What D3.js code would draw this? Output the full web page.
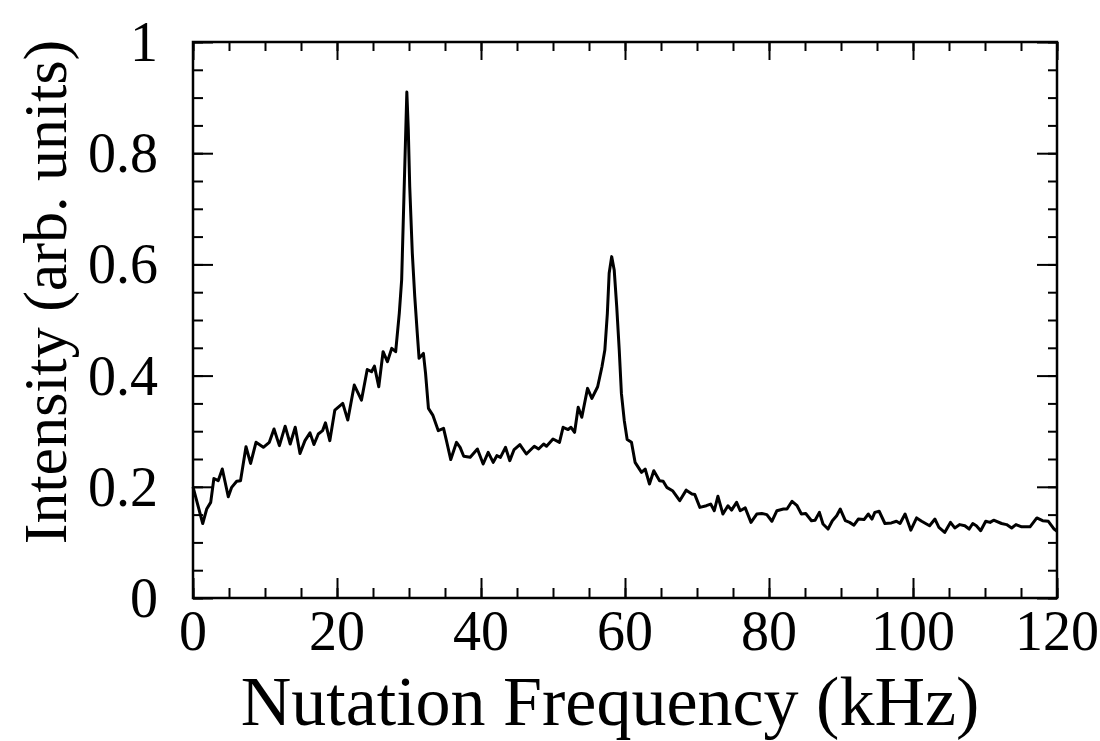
<!DOCTYPE html>
<html>
<head>
<meta charset="utf-8">
<script src="https://cdn.jsdelivr.net/npm/d3@7"></script>
<style>
  html, body { margin: 0; padding: 0; background: #fff; }
  svg { display: block; }
  text { font-family: "Liberation Serif", "DejaVu Serif", serif; fill: #000; }
</style>
</head>
<body>
<svg id="chart" width="1100" height="741"></svg>
<script>
// Nutation frequency (kHz)
const freq = [
  0, 1.35, 1.9, 2.46, 2.9, 3.5, 4.07, 4.9, 5.37, 6.07, 6.6, 7.36, 8.0, 8.75, 9.77,
  10.6, 11.25, 12.0, 12.8, 13.5, 14.2, 14.86, 15.55, 16.25, 16.8, 17.4, 18.0, 18.4,
  19.0, 19.7, 20.8, 21.5, 22.4, 23.4, 24.2, 24.8, 25.2, 25.8, 26.4, 27.0, 27.6, 28.15,
  28.65, 28.98, 29.3, 29.7, 29.9, 30.1, 30.46, 30.8, 31.15, 31.4, 32.0, 32.3, 32.7,
  33.3, 34.07, 34.8, 35.2, 35.8, 36.6, 37.1, 37.6, 38.5, 39.5, 40.3, 41.0, 41.7, 42.2,
  42.7, 43.4, 44.0, 44.6, 45.4, 46.3, 47.4, 48.0, 48.7, 49.1, 50.0, 50.9, 51.4, 52.1,
  52.5, 53.0, 53.5, 54.0, 54.8, 55.4, 56.2, 56.8, 57.2, 57.55, 57.8, 58.15, 58.5,
  58.85, 59.2, 59.5, 59.9, 60.3, 60.9, 61.4, 62.3, 62.8, 63.4, 64.0, 64.8, 65.3, 65.8,
  66.6, 67.6, 68.5, 69.3, 69.7, 70.4, 71.3, 71.9, 72.4, 72.9, 73.6, 74.3, 74.8, 75.5,
  76.0, 76.7, 77.5, 78.3, 79.0, 79.7, 80.4, 81.1, 82.0, 82.5, 83.2, 83.9, 84.5, 85.1,
  85.9, 86.4, 87.0, 87.5, 88.2, 88.8, 89.4, 89.9, 90.6, 91.2, 91.8, 92.4, 93.2, 93.8,
  94.3, 94.7, 95.3, 96.1, 97.0, 97.7, 98.2, 98.9, 99.7, 100.5, 101.2, 102.3, 103.05,
  103.6, 104.4, 105.2, 105.8, 106.5, 107.2, 107.8, 108.3, 108.8, 109.4, 110.1, 110.7,
  111.2, 112.3, 113.0, 113.7, 114.3, 115.1, 116.25, 117.2, 118.0, 118.8, 119.6, 120
];
// Intensity (arb. units)
const intensity = [
  0.200, 0.134, 0.160, 0.172, 0.215, 0.211, 0.232, 0.182, 0.199, 0.210, 0.211, 0.272, 0.242, 0.280, 0.271,
  0.280, 0.304, 0.274, 0.309, 0.277, 0.307, 0.260, 0.283, 0.297, 0.276, 0.295, 0.301, 0.315,
  0.283, 0.338, 0.350, 0.320, 0.383, 0.356, 0.411, 0.407, 0.417, 0.380, 0.443, 0.425, 0.449, 0.443,
  0.512, 0.572, 0.723, 0.910, 0.843, 0.740, 0.620, 0.542, 0.476, 0.431, 0.440, 0.404, 0.341,
  0.329, 0.301, 0.305, 0.283, 0.249, 0.280, 0.271, 0.255, 0.253, 0.268, 0.241, 0.262, 0.244, 0.256,
  0.253, 0.271, 0.247, 0.267, 0.276, 0.259, 0.273, 0.268, 0.277, 0.273, 0.286, 0.280, 0.307, 0.303,
  0.307, 0.298, 0.343, 0.325, 0.377, 0.359, 0.380, 0.416, 0.446, 0.512, 0.584, 0.614, 0.590,
  0.524, 0.446, 0.368, 0.319, 0.285, 0.280, 0.244, 0.226, 0.232, 0.205, 0.229, 0.211, 0.210, 0.199,
  0.193, 0.175, 0.194, 0.187, 0.186, 0.163, 0.166, 0.169, 0.157, 0.183, 0.151, 0.166, 0.158, 0.172,
  0.157, 0.162, 0.136, 0.151, 0.152, 0.150, 0.138, 0.157, 0.160, 0.160, 0.174, 0.166, 0.151, 0.152,
  0.139, 0.140, 0.154, 0.133, 0.124, 0.139, 0.148, 0.160, 0.139, 0.136, 0.131, 0.142, 0.141, 0.151,
  0.142, 0.154, 0.156, 0.134, 0.135, 0.138, 0.134, 0.151, 0.122, 0.144, 0.138, 0.130, 0.142,
  0.127, 0.118, 0.136, 0.126, 0.132, 0.130, 0.124, 0.134, 0.130, 0.121, 0.138, 0.136,
  0.140, 0.134, 0.132, 0.126, 0.132, 0.128, 0.128, 0.144, 0.139, 0.138, 0.124, 0.120
];
const xMajorTicks = [0, 20, 40, 60, 80, 100, 120];
const yMajorTicks = [0, 0.2, 0.4, 0.6, 0.8, 1];
const yTickLabels = ["0", "0.2", "0.4", "0.6", "0.8", "1"];

const svg = d3.select("#chart");
const L = 193, R = 1057, T = 42, B = 598;
const x = d3.scaleLinear().domain([0, 120]).range([L, R]);
const y = d3.scaleLinear().domain([0, 1]).range([B, T]);

const xMinor = d3.range(0, 120.001, 5);
const yMinor = d3.range(0, 1.0001, 0.05);

function tickStyle(g) {
  g.select(".domain").remove();
  g.selectAll("line").attr("stroke", "#000").attr("stroke-width", 2);
  g.selectAll("text").remove();
}

// minor ticks (inward) on all sides
svg.append("g").attr("transform", `translate(0,${B})`)
  .call(d3.axisTop(x).tickValues(xMinor).tickSize(10)).call(tickStyle);
svg.append("g").attr("transform", `translate(0,${T})`)
  .call(d3.axisBottom(x).tickValues(xMinor).tickSize(9)).call(tickStyle);
svg.append("g").attr("transform", `translate(${L},0)`)
  .call(d3.axisRight(y).tickValues(yMinor).tickSize(10)).call(tickStyle);
svg.append("g").attr("transform", `translate(${R},0)`)
  .call(d3.axisLeft(y).tickValues(yMinor).tickSize(9)).call(tickStyle);
// major ticks
svg.append("g").attr("transform", `translate(0,${B})`)
  .call(d3.axisTop(x).tickValues(xMajorTicks).tickSize(20)).call(tickStyle);
svg.append("g").attr("transform", `translate(0,${T})`)
  .call(d3.axisBottom(x).tickValues(xMajorTicks).tickSize(18)).call(tickStyle);
svg.append("g").attr("transform", `translate(${L},0)`)
  .call(d3.axisRight(y).tickValues(yMajorTicks).tickSize(20)).call(tickStyle);
svg.append("g").attr("transform", `translate(${R},0)`)
  .call(d3.axisLeft(y).tickValues(yMajorTicks).tickSize(20)).call(tickStyle);

// frame
svg.append("rect").attr("x", L).attr("y", T).attr("width", R - L).attr("height", B - T)
  .attr("fill", "none").attr("stroke", "#000").attr("stroke-width", 2.5);

// tick labels
svg.append("g").selectAll("text").data(xMajorTicks).join("text")
  .attr("x", d => x(d)).attr("y", 650)
  .attr("text-anchor", "middle").attr("font-size", 56)
  .text(d => d);
svg.append("g").selectAll("text").data(yMajorTicks).join("text")
  .attr("x", 158).attr("y", d => y(d) + 19)
  .attr("text-anchor", "end").attr("font-size", 56)
  .text((d, i) => yTickLabels[i]);

// axis titles
svg.append("text").attr("x", 610).attr("y", 725)
  .attr("text-anchor", "middle").attr("font-size", 70)
  .text("Nutation Frequency (kHz)");
svg.append("text")
  .attr("transform", `translate(66,292) rotate(-90)`)
  .attr("text-anchor", "middle").attr("font-size", 62)
  .text("Intensity (arb. units)");

// data line
const line = d3.line().x((d, i) => x(freq[i])).y(d => y(d)).curve(d3.curveLinear);
svg.append("path").datum(intensity)
  .attr("d", line).attr("fill", "none").attr("stroke", "#000")
  .attr("stroke-width", 3).attr("stroke-linejoin", "round");
</script>
</body>
</html>
